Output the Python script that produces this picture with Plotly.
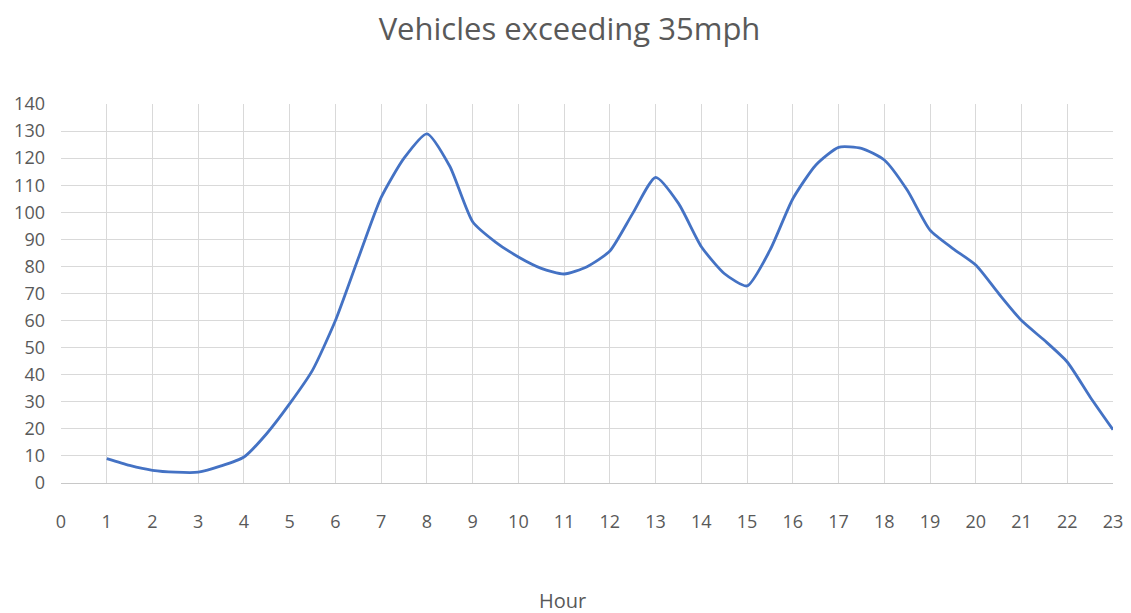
import plotly.graph_objects as go

hours = [1, 1.5, 2, 2.5, 3, 3.5, 4, 4.5, 5, 5.5, 6, 6.5, 7, 7.5, 8, 8.5, 9, 9.5, 10, 10.5,
         11, 11.5, 12, 12.5, 13, 13.5, 14, 14.5, 15, 15.5, 16, 16.5, 17, 17.5, 18, 18.5,
         19, 19.5, 20, 20.5, 21, 21.5, 22, 22.5, 23]
vehicles = [9, 6.5, 4.7, 4, 4, 6.3, 9.6, 18.3, 29.3, 41.7, 60, 83, 105.5, 120, 129, 117, 96.5, 89,
            83.5, 79.3, 77.2, 79.9, 85.7, 99.6, 112.9, 103.3, 87.3, 77.4, 72.8, 86, 105, 117.4,
            124, 123.6, 119.3, 108.2, 93.4, 86.6, 80.5, 70, 60, 52.7, 44.7, 31.8, 19.7]
x_ticks = list(range(0, 24))
y_ticks = list(range(0, 141, 10))

grey = "#595959"
font = "Open Sans"

fig = go.Figure()
fig.add_trace(go.Scatter(x=hours, y=vehicles, mode="lines",
                         line=dict(color="#4472C4", width=2.8, shape="spline", smoothing=0.6),
                         showlegend=False))

fig.update_layout(
    width=1123, height=605,
    margin=dict(l=53, r=18, t=96, b=130, autoexpand=False),
    paper_bgcolor="white", plot_bgcolor="white",
    title=dict(text="Vehicles exceeding 35mph", x=0.5, xanchor="center", y=0.965, yanchor="middle",
               font=dict(family=font, size=31, color=grey)),
    font=dict(family=font, size=17, color=grey),
    annotations=[dict(text="Hour", xref="paper", yref="paper", x=0.477, y=0, yshift=-117,
                      showarrow=False, xanchor="center", yanchor="middle",
                      font=dict(family=font, size=20, color=grey))],
)
fig.update_xaxes(range=[0, 23], tickvals=x_ticks, ticktext=[str(v) for v in x_ticks],
                 showgrid=True, gridcolor="#d9d9d9", gridwidth=1, automargin=False,
                 showline=True, linecolor="#c8c8c8", linewidth=1, zeroline=False,
                 ticks="", ticklabelstandoff=22, tickfont=dict(size=18, color=grey), mirror=False)
fig.update_yaxes(range=[0, 140], tickvals=y_ticks, ticktext=[str(v) for v in y_ticks],
                 showgrid=True, gridcolor="#d9d9d9", gridwidth=1, automargin=False,
                 showline=False, zeroline=False, ticks="", ticklabelstandoff=15,
                 tickfont=dict(size=18, color=grey))

fig.write_html("out.html")
